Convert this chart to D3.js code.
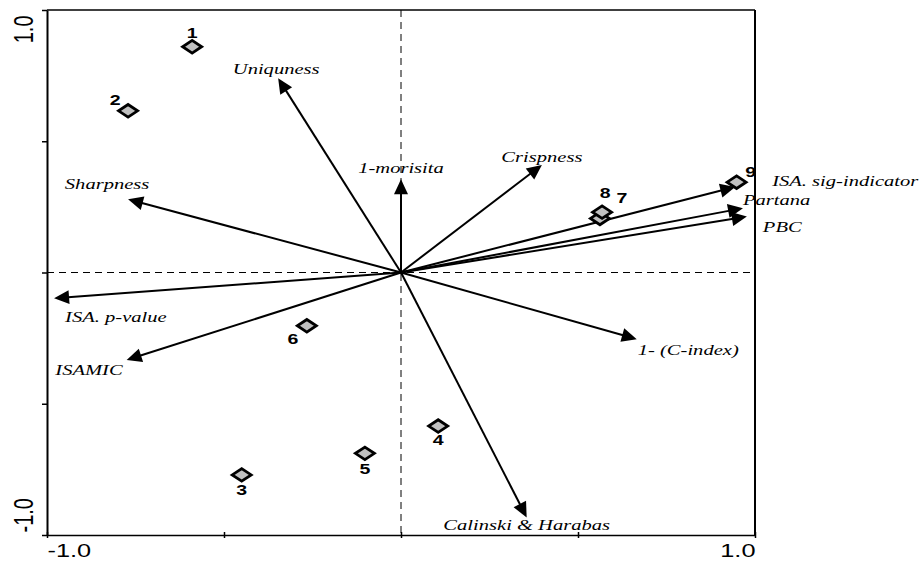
<!DOCTYPE html>
<html>
<head>
<meta charset="utf-8">
<script src="https://cdn.jsdelivr.net/npm/d3@7"></script>
<style>
  html, body { margin: 0; padding: 0; background: #fff; }
  svg { display: block; }
  .varlab { font-family: "Liberation Serif", "DejaVu Serif", serif; font-style: italic; }
  .num { font-family: "Liberation Sans", Arial, sans-serif; font-weight: bold; }
  .ticklab { font-family: "Liberation Sans", Arial, sans-serif; }
</style>
</head>
<body>
<svg id="chart" width="920" height="561"></svg>
<script>
// ---------- data ----------
const siteIds   = ["1", "2", "3", "4", "5", "6", "7", "8", "9"];
const siteX     = [-0.590, -0.771, -0.450, 0.105, -0.102, -0.266, 0.562, 0.568, 0.948];
const siteY     = [ 0.860,  0.616, -0.771, -0.585, -0.689, -0.203, 0.206, 0.230, 0.344];

const varNames  = ["Uniquness", "1-morisita", "Crispness", "Sharpness", "ISA. sig-indicator",
                   "Partana", "PBC", "ISA. p-value", "ISAMIC", "1- (C-index)", "Calinski & Harabas"];
const varX      = [-0.347, 0.000, 0.398, -0.771, 0.944, 0.966, 0.977, -0.980, -0.775, 0.666, 0.355];
const varY      = [ 0.740, 0.355, 0.410,  0.279, 0.326, 0.245, 0.213, -0.098, -0.333, -0.254, -0.933];

const tickValues = [-1.0, -0.5, 0.0, 0.5, 1.0];
const tickLabels = ["-1.0", "", "", "", "1.0"];

// ---------- layout (pixels, kept apart from the data) ----------
const stretch = 1.37; // horizontal text stretch of the reference
const varLabelLayout = {
  "Uniquness":          {dx: -2,  dy: -4,  anchor: "middle"},
  "1-morisita":         {dx: 0,   dy: -6,  anchor: "middle"},
  "Crispness":          {dx: 0,   dy: -3,  anchor: "middle"},
  "Sharpness":          {dx: -21, dy: -10, anchor: "middle"},
  "ISA. sig-indicator": {dx: 37,  dy: -1,  anchor: "start"},
  "Partana":            {dx: 0,   dy: -3,  anchor: "start"},
  "PBC":                {dx: 16,  dy: 15,  anchor: "start"},
  "ISA. p-value":       {dx: 11,  dy: 24,  anchor: "start"},
  "ISAMIC":             {dx: -4,  dy: 15,  anchor: "end"},
  "1- (C-index)":       {dx: 1,   dy: 16,  anchor: "start"},
  "Calinski & Harabas": {dx: 0,   dy: 13,  anchor: "middle"}
};
const siteLabelLayout = {
  "1": {dx: 0,   dy: -8.5},
  "2": {dx: -13, dy: -6},
  "3": {dx: 0,   dy: 20},
  "4": {dx: 0,   dy: 19},
  "5": {dx: 0,   dy: 20.5},
  "6": {dx: -14, dy: 18.5},
  "7": {dx: 22,  dy: -15.5},
  "8": {dx: 3,   dy: -14},
  "9": {dx: 14,  dy: -5}
};

const plotLeft = 47, plotRight = 755, plotTop = 10, plotBottom = 535;
const svg = d3.select("#chart");

const x = d3.scaleLinear().domain([-1, 1]).range([plotLeft, plotRight]);
const y = d3.scaleLinear().domain([-1, 1]).range([plotBottom, plotTop]);

// frame
svg.append("line").attr("x1", plotLeft).attr("x2", plotRight).attr("y1", plotTop).attr("y2", plotTop)
  .attr("stroke", "#000").attr("stroke-width", 1.5);
svg.append("line").attr("x1", plotRight).attr("x2", plotRight).attr("y1", plotTop).attr("y2", plotBottom)
  .attr("stroke", "#000").attr("stroke-width", 2);

// dashed zero lines
svg.append("line").attr("x1", x(0)).attr("x2", x(0)).attr("y1", y(1)).attr("y2", y(-1))
  .attr("stroke", "#000").attr("stroke-width", 1).attr("stroke-dasharray", "7,5");
svg.append("line").attr("x1", x(-1)).attr("x2", x(1)).attr("y1", y(0)).attr("y2", y(0))
  .attr("stroke", "#000").attr("stroke-width", 1).attr("stroke-dasharray", "7,5");

// bottom axis
const xAxis = svg.append("g").attr("transform", `translate(0,${plotBottom})`)
  .call(d3.axisBottom(x).tickValues(tickValues).tickSize(3).tickSizeOuter(0)
        .tickFormat((d, i) => tickLabels[i]));
xAxis.attr("font-family", null);
xAxis.select(".domain").attr("stroke-width", 1.5);
xAxis.selectAll(".tick line").attr("y1", -3).attr("y2", 3).attr("stroke-width", 1.5);
xAxis.selectAll(".tick text")
  .attr("class", "ticklab")
  .attr("font-size", 18.5)
  .attr("fill", "#000")
  .attr("dy", null)
  .attr("y", 0)
  .attr("text-anchor", (d, i) => i === 0 ? "start" : "end")
  .attr("transform", `translate(0,21.5) scale(${stretch},1)`);

// left axis
const yAxis = svg.append("g").attr("transform", `translate(${plotLeft},0)`)
  .call(d3.axisLeft(y).tickValues(tickValues).tickSize(5).tickSizeOuter(0)
        .tickFormat((d, i) => tickLabels[i]));
yAxis.attr("font-family", null);
yAxis.select(".domain").attr("stroke-width", 2);
yAxis.selectAll(".tick line").attr("stroke-width", 1.5);
yAxis.selectAll(".tick text")
  .attr("class", "ticklab")
  .attr("font-size", 20)
  .attr("fill", "#000")
  .attr("x", 0).attr("y", 0).attr("dy", null)
  .attr("text-anchor", (d, i) => i === 0 ? "start" : "end")
  .attr("transform", (d, i) => `translate(-14,${i === 0 ? -3 : 5}) scale(${stretch},1) rotate(-90)`);

// arrows
const vars = varNames.map((n, i) => ({name: n, vx: varX[i], vy: varY[i]}));
const gArrows = svg.append("g");
vars.forEach(v => {
  const x0 = x(0), y0 = y(0), x1 = x(v.vx), y1 = y(v.vy);
  const len = Math.hypot(x1 - x0, y1 - y0);
  const ux = (x1 - x0) / len, uy = (y1 - y0) / len;
  const L = 15, W = 7;
  gArrows.append("line")
    .attr("x1", x0).attr("y1", y0)
    .attr("x2", x1 - ux * L * 0.7).attr("y2", y1 - uy * L * 0.7)
    .attr("stroke", "#000").attr("stroke-width", 2);
  const bx = x1 - ux * L, by = y1 - uy * L;
  gArrows.append("path")
    .attr("d", `M${x1},${y1}L${bx - uy * W},${by + ux * W}L${bx + uy * W},${by - ux * W}Z`)
    .attr("fill", "#000");
});

// variable labels
svg.append("g").selectAll("text").data(vars).join("text")
  .attr("class", "varlab")
  .attr("transform", d => {
    const l = varLabelLayout[d.name];
    return `translate(${x(d.vx) + l.dx},${y(d.vy) + l.dy}) scale(${stretch},1)`;
  })
  .attr("text-anchor", d => varLabelLayout[d.name].anchor)
  .attr("font-size", 15)
  .attr("fill", "#000")
  .text(d => d.name);

// sites
const sites = siteIds.map((id, i) => ({id, sx: siteX[i], sy: siteY[i]}));
const hw = 9.5, hh = 6.3;
svg.append("g").selectAll("path").data(sites).join("path")
  .attr("d", d => {
    const cx = x(d.sx), cy = y(d.sy);
    return `M${cx},${cy - hh}L${cx + hw},${cy}L${cx},${cy + hh}L${cx - hw},${cy}Z`;
  })
  .attr("fill", "#c0c0c0")
  .attr("stroke", "#000")
  .attr("stroke-width", 2.8)
  .attr("stroke-linejoin", "miter");

svg.append("g").selectAll("text").data(sites).join("text")
  .attr("class", "num")
  .attr("transform", d => {
    const l = siteLabelLayout[d.id];
    return `translate(${x(d.sx) + l.dx},${y(d.sy) + l.dy}) scale(${stretch * 0.95},1)`;
  })
  .attr("text-anchor", "middle")
  .attr("font-size", 15)
  .attr("fill", "#000")
  .text(d => d.id);
</script>
</body>
</html>
